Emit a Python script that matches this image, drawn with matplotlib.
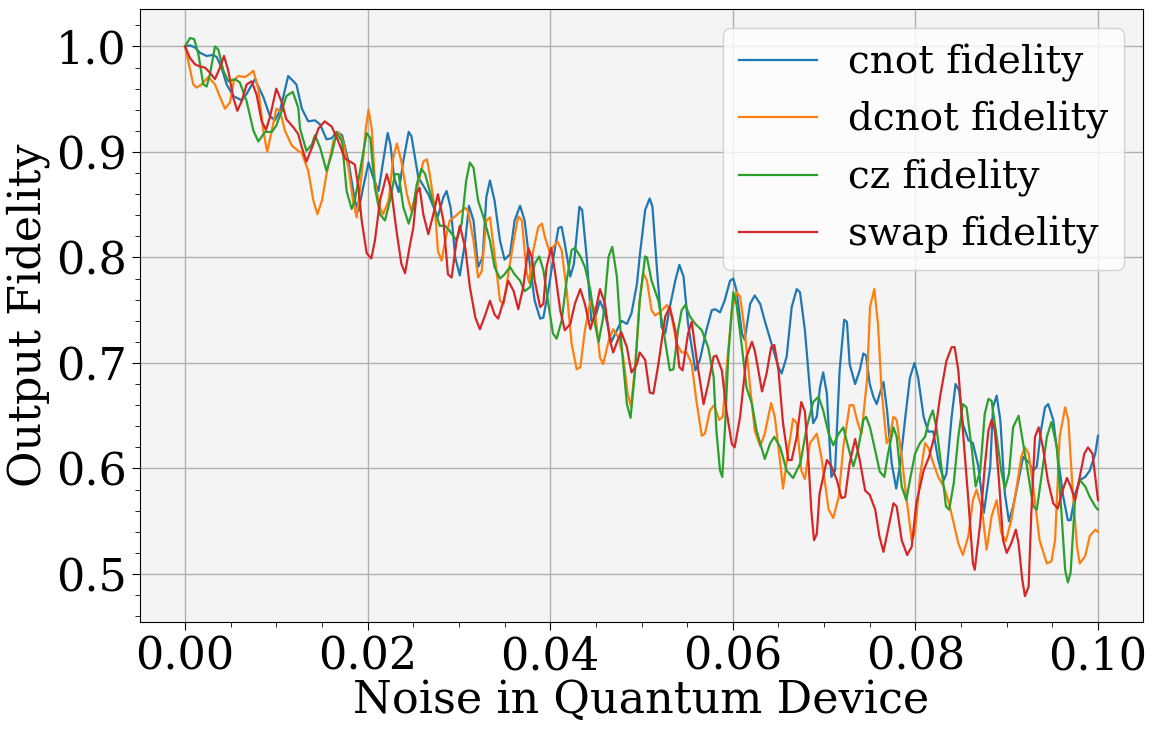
import numpy as np
import matplotlib
matplotlib.use("Agg")
import matplotlib.pyplot as plt
from matplotlib.ticker import MultipleLocator

# noise values are given in thousandths (x1000) of the noise level
cnot_noise_milli = [0,0.55,1.1,1.64,2.37,3.1,3.47,4.0,4.56,5.3,6.2,6.75,7.66,8.58,9.3,9.85,10.4,11.3,12.2,
    12.8,13.5,14.24,14.8,15.5,16.07,16.6,17.2,17.9,18.6,19.0,19.5,20.1,20.6,21.2,21.7,22.2,22.5,22.9,23.4,23.9,24.5,24.8,
    25.55,26.1,26.65,27.4,27.7,28.3,28.65,29.1,29.6,30.1,30.7,31.1,31.6,32.1,32.6,33.0,33.4,33.9,34.5,35.0,35.6,36.1,36.7,37.2,
    37.8,38.3,38.9,39.25,39.8,40.3,40.9,41.25,41.6,42.2,42.6,43.2,43.5,43.99,44.5,44.9,45.45,46.0,46.7,47.3,47.8,48.4,48.9,49.5,
    49.84,50.4,50.9,51.2,51.7,52.2,52.6,53.1,53.7,54.15,54.6,55.1,55.9,56.4,57.1,57.7,58.05,58.6,59.1,59.7,60.05,60.4,61.0,61.3,61.9,62.4,
    63.0,63.5,64.25,65.0,65.35,65.9,66.45,67.0,67.36,67.9,68.45,68.8,69.2,69.55,69.9,70.3,70.8,71.2,71.7,72.2,72.5,72.8,73.4,73.9,74.3,74.6,75.0,
    75.4,75.76,76.1,76.5,76.9,77.4,77.9,78.3,78.9,79.4,79.9,80.3,80.9,81.4,81.96,82.5,83.1,83.4,83.97,84.4,84.8,85.2,85.8,86.3,86.9,87.5,
    88.2,88.5,88.9,89.3,89.8,90.25,90.7,91.3,91.8,92.4,92.9,93.3,93.75,94.2,94.55,95.1,95.65,96.2,96.7,97.0,97.5,98.0,98.6,99.1,99.7,100]
cnot_fidelity = [1.0,1.001,0.999,0.994,0.991,0.992,0.99,0.98,0.964,0.953,0.949,0.955,0.969,0.952,0.934,0.93,0.939,0.972,0.964,
    0.941,0.929,0.930,0.926,0.912,0.913,0.919,0.916,0.891,0.854,0.844,0.866,0.89,0.876,0.863,0.891,0.918,0.907,0.876,0.862,0.891,0.919,0.915,
    0.876,0.868,0.86,0.844,0.839,0.857,0.863,0.847,0.8,0.783,0.816,0.849,0.835,0.791,0.8,0.857,0.873,0.854,0.816,0.798,0.803,0.835,0.849,0.835,
    0.791,0.759,0.742,0.743,0.769,0.797,0.828,0.829,0.813,0.782,0.794,0.848,0.845,0.801,0.74,0.742,0.759,0.747,0.72,0.731,0.74,0.737,0.747,0.775,
    0.804,0.845,0.856,0.848,0.788,0.734,0.728,0.753,0.778,0.793,0.782,0.737,0.693,0.703,0.731,0.75,0.751,0.748,0.759,0.778,0.78,0.769,0.728,0.722,0.756,0.764,
    0.756,0.74,0.718,0.696,0.69,0.706,0.753,0.77,0.767,0.731,0.674,0.643,0.649,0.677,0.691,0.671,0.592,0.598,0.693,0.741,0.739,0.699,0.68,0.693,0.709,0.707,0.68,
    0.668,0.661,0.671,0.682,0.655,0.605,0.581,0.602,0.649,0.686,0.7,0.686,0.649,0.635,0.635,0.608,0.589,0.595,0.649,0.68,0.674,0.642,0.627,0.624,0.602,0.558,
    0.602,0.658,0.669,0.646,0.576,0.55,0.564,0.589,0.611,0.606,0.598,0.602,0.636,0.658,0.661,0.646,0.608,0.573,0.551,0.551,0.576,0.589,0.592,0.598,0.614,0.631]

dcnot_noise_milli = [0,0.36,0.9,1.28,1.8,2.55,3.28,3.83,4.38,4.93,5.36,5.84,6.57,7.1,7.48,8.03,8.58,9.0,9.5,10.0,10.4,10.95,11.7,12.4,
    12.8,13.5,14.06,14.5,15.0,15.5,16.25,16.8,17.3,17.9,18.4,18.8,19.35,19.8,20.1,20.45,20.8,21.36,21.7,22.3,22.8,23.2,23.7,24.3,24.8,
    25.55,26.1,26.5,26.8,27.4,27.7,28.1,28.5,29.0,29.6,30.1,30.7,31.0,31.6,32.1,32.5,33.0,33.4,33.9,34.5,34.9,35.4,36.0,36.5,36.9,37.4,37.7,
    38.15,38.7,39.1,39.4,39.98,40.3,40.8,41.25,41.8,42.35,42.9,43.3,43.8,44.4,44.9,45.45,45.8,46.4,46.9,47.5,48.0,48.5,48.85,49.3,49.8,50.2,
    50.6,51.1,51.5,52.0,52.8,53.3,53.85,54.4,54.95,55.5,56.0,56.6,56.95,57.5,57.95,58.5,58.9,59.3,59.9,60.4,60.8,61.3,61.9,62.4,
    63.0,63.5,64.2,64.6,65.2,65.5,66.08,66.6,67.0,67.5,67.9,68.45,69.2,69.7,70.5,71.0,71.6,72.1,72.8,73.2,73.7,74.1,74.7,
    75.03,75.5,75.9,76.3,76.85,77.2,77.6,77.95,78.5,79.0,79.6,79.95,80.5,81.05,81.4,81.96,82.5,83.1,83.6,84.2,84.7,85.2,85.8,86.3,86.7,87.3,87.8,
    88.35,88.9,89.4,89.9,90.5,91.1,91.6,92.0,92.4,92.9,93.6,94.4,94.9,95.3,95.8,96.4,96.75,97.2,97.7,98.0,98.6,99.1,99.7,100]
dcnot_fidelity = [1.0,0.986,0.964,0.961,0.964,0.971,0.964,0.952,0.941,0.947,0.968,0.972,0.971,0.974,0.977,0.96,0.92,0.9,0.92,0.941,0.939,0.92,0.906,0.901,
    0.899,0.882,0.854,0.841,0.854,0.879,0.91,0.919,0.91,0.885,0.854,0.838,0.879,0.922,0.94,0.922,0.872,0.847,0.841,0.854,0.894,0.908,0.891,0.86,0.844,
    0.870,0.891,0.893,0.879,0.844,0.806,0.797,0.816,0.835,0.839,0.843,0.847,0.844,0.816,0.781,0.787,0.835,0.838,0.803,0.759,0.756,0.784,0.816,0.839,0.835,0.787,0.776,
    0.807,0.829,0.832,0.82,0.804,0.81,0.815,0.807,0.769,0.718,0.694,0.696,0.731,0.759,0.75,0.705,0.699,0.721,0.732,0.724,0.705,0.67,0.659,0.696,0.759,0.785,
    0.778,0.75,0.745,0.748,0.755,0.744,0.718,0.71,0.71,0.699,0.665,0.631,0.633,0.655,0.66,0.646,0.649,0.693,0.75,0.767,0.763,0.731,0.677,0.636,
    0.621,0.633,0.662,0.649,0.605,0.581,0.617,0.647,0.643,0.598,0.59,0.624,0.633,0.611,0.561,0.553,0.573,0.62,0.66,0.66,0.643,0.633,0.684,
    0.753,0.77,0.737,0.674,0.624,0.63,0.649,0.646,0.611,0.573,0.532,0.539,0.592,0.624,0.62,0.605,0.592,0.583,0.57,0.548,0.529,0.518,0.536,0.57,0.58,0.561,0.523,
    0.555,0.57,0.539,0.531,0.551,0.583,0.611,0.62,0.614,0.583,0.532,0.51,0.512,0.532,0.63,0.658,0.646,0.583,0.526,0.51,0.517,0.536,0.542,0.54]

cz_noise_milli = [0,0.55,1.0,1.46,2.0,2.37,2.74,3.28,3.65,4.2,4.74,5.47,6.0,6.75,7.5,8.03,8.76,9.5,10.0,10.6,11.1,11.8,12.4,
    12.6,13.3,13.9,14.24,14.8,15.5,16.07,16.6,17.2,17.7,18.25,18.6,19.35,19.9,20.3,20.8,21.36,21.9,22.45,23.0,23.4,23.9,24.5,
    25.0,25.37,25.9,26.3,26.8,27.4,27.9,28.5,29.0,29.75,30.3,30.8,31.2,31.6,32.1,32.7,33.4,33.9,34.5,35.0,35.6,36.1,36.7,37.2,
    37.8,38.3,38.8,39.25,39.8,40.3,40.7,41.25,41.8,42.35,42.7,43.3,43.8,44.4,44.9,45.3,45.8,46.4,46.8,47.3,47.8,48.4,48.8,49.3,49.8,50.4,
    50.6,51.1,51.85,52.4,53.1,53.5,54.0,54.4,54.8,55.3,55.9,56.6,57.3,57.9,58.2,58.6,58.85,59.15,59.5,60.05,60.4,61.0,61.5,62.1,62.6,
    63.0,63.5,64.1,64.55,65.2,65.9,66.6,67.4,68.1,68.8,69.4,69.9,70.5,71.0,71.6,72.1,72.65,73.2,73.7,74.3,74.6,
    75.03,75.6,76.1,76.6,77.0,77.6,77.95,78.5,79.0,79.4,79.96,80.5,81.05,81.5,81.9,82.3,82.9,83.35,83.7,84.2,84.7,85.2,85.6,86.2,86.6,87.1,87.6,88.0,
    88.35,88.9,89.4,89.8,90.25,90.7,91.3,91.8,92.4,92.9,93.3,93.8,94.4,94.9,95.5,96.0,96.4,96.7,97.0,97.5,98.0,98.6,99.1,99.7,100]
cz_fidelity = [1.0,1.008,1.007,0.993,0.964,0.962,0.974,1.0,0.997,0.977,0.967,0.969,0.966,0.948,0.92,0.91,0.919,0.919,0.925,0.939,0.953,0.957,0.942,
    0.922,0.901,0.907,0.916,0.904,0.882,0.898,0.918,0.91,0.863,0.846,0.854,0.891,0.918,0.913,0.866,0.841,0.835,0.854,0.879,0.879,0.848,0.832,
    0.847,0.869,0.884,0.879,0.863,0.844,0.83,0.83,0.825,0.816,0.832,0.873,0.89,0.885,0.854,0.838,0.816,0.791,0.78,0.784,0.791,0.784,0.778,0.768,
    0.772,0.794,0.801,0.788,0.756,0.728,0.723,0.74,0.778,0.807,0.809,0.801,0.791,0.769,0.737,0.72,0.743,0.801,0.81,0.782,0.718,0.661,0.648,0.693,0.759,0.801,
    0.8,0.778,0.759,0.731,0.693,0.694,0.731,0.75,0.755,0.744,0.737,0.731,0.715,0.687,0.636,0.598,0.592,0.639,0.706,0.767,0.756,0.715,0.677,0.661,0.636,
    0.624,0.609,0.624,0.63,0.62,0.598,0.591,0.605,0.639,0.663,0.668,0.655,0.633,0.622,0.633,0.639,0.62,0.602,0.617,0.646,0.649,
    0.639,0.617,0.597,0.592,0.614,0.639,0.63,0.583,0.57,0.589,0.614,0.624,0.63,0.646,0.655,0.639,0.598,0.564,0.561,0.586,0.63,0.661,0.658,0.617,0.583,0.598,0.652,0.666,
    0.664,0.63,0.598,0.581,0.595,0.639,0.65,0.624,0.592,0.564,0.561,0.592,0.63,0.644,0.62,0.558,0.504,0.492,0.501,0.573,0.589,0.583,0.573,0.564,0.561]

swap_noise_milli = [0,0.55,1.1,1.64,2.19,2.74,3.28,3.83,4.27,4.74,5.3,5.73,6.2,6.75,7.3,7.85,8.4,8.87,9.3,10.0,10.6,11.1,11.9,12.4,
    12.8,13.3,13.9,14.6,15.3,16.07,16.8,17.5,18.25,18.6,19.0,19.35,19.9,20.4,20.8,21.36,22.1,22.6,23.2,23.7,24.1,24.6,
    25.0,25.37,25.7,26.1,26.65,27.2,27.7,28.3,28.8,29.2,29.75,30.1,30.7,31.2,31.8,32.3,32.9,33.4,33.9,34.3,34.9,35.4,36.0,36.5,37.05,37.6,38.0,
    38.3,38.9,39.25,39.6,40.1,40.5,41.1,41.6,42.2,42.7,43.3,43.8,44.4,44.9,45.45,46.0,46.55,46.9,47.5,47.8,48.4,48.9,49.5,49.8,
    50.4,50.9,51.3,51.85,52.6,53.1,53.7,54.15,54.5,55.1,55.5,56.0,56.8,57.3,57.9,58.2,58.8,59.3,59.9,60.2,60.8,61.5,62.1,62.4,
    62.8,63.2,63.7,64.2,64.55,65.0,65.5,66.08,66.45,67.0,67.5,67.9,68.3,68.6,68.9,69.2,69.5,70.3,70.8,71.4,71.9,72.3,72.8,73.4,73.9,74.5,75.0,
    75.6,76.05,76.5,77.0,77.6,77.95,78.5,79.1,79.6,80.1,80.9,81.5,82.15,82.7,83.4,83.97,84.3,84.7,85.2,85.8,86.3,86.5,87.1,87.6,
    88.0,88.35,88.7,89.15,89.6,90.0,90.5,91.0,91.3,91.7,92.0,92.4,92.7,93.1,93.5,93.97,94.5,95.1,95.6,96.0,96.6,97.0,97.5,98.0,98.5,98.9,99.4,100]
swap_fidelity = [1.0,0.989,0.983,0.981,0.98,0.975,0.969,0.98,0.991,0.977,0.951,0.939,0.948,0.964,0.967,0.954,0.929,0.921,0.933,0.96,0.947,0.931,0.923,0.917,
    0.904,0.891,0.904,0.922,0.929,0.924,0.91,0.894,0.89,0.888,0.866,0.835,0.804,0.799,0.816,0.854,0.879,0.863,0.823,0.794,0.785,0.81,
    0.828,0.861,0.866,0.841,0.822,0.841,0.86,0.835,0.784,0.781,0.816,0.83,0.809,0.772,0.743,0.732,0.746,0.759,0.746,0.742,0.759,0.778,0.768,0.751,0.772,0.809,0.8,
    0.778,0.753,0.756,0.791,0.809,0.788,0.75,0.731,0.737,0.756,0.77,0.756,0.732,0.747,0.77,0.756,0.721,0.71,0.724,0.729,0.715,0.691,0.699,0.71,
    0.703,0.672,0.671,0.699,0.744,0.753,0.731,0.696,0.693,0.728,0.739,0.706,0.661,0.68,0.706,0.707,0.693,0.655,0.623,0.62,0.649,0.706,0.72,0.712,
    0.693,0.673,0.69,0.715,0.717,0.693,0.643,0.608,0.608,0.63,0.663,0.654,0.605,0.56,0.532,0.538,0.576,0.608,0.602,0.589,0.572,0.573,0.605,0.628,0.608,0.579,0.575,
    0.561,0.536,0.521,0.542,0.567,0.564,0.532,0.518,0.526,0.567,0.598,0.611,0.633,0.668,0.702,0.715,0.715,0.693,0.636,0.57,0.51,0.504,0.548,0.602,
    0.636,0.646,0.636,0.589,0.532,0.52,0.529,0.542,0.529,0.495,0.479,0.488,0.558,0.63,0.639,0.62,0.589,0.567,0.562,0.576,0.591,0.583,0.57,0.592,0.614,0.62,0.614,0.57]

series_labels = ["cnot fidelity", "dcnot fidelity", "cz fidelity", "swap fidelity"]
x_ticks = [0.00, 0.02, 0.04, 0.06, 0.08, 0.10]
y_ticks = [0.5, 0.6, 0.7, 0.8, 0.9, 1.0]

plt.rcParams['font.family'] = ['DejaVu Serif']

fig = plt.figure(figsize=(11.56, 7.37), dpi=100)
ax = fig.add_axes([140/1156, 115/737, 1003/1156, 613/737])
ax.set_facecolor('#f4f4f4')

data = [(cnot_noise_milli, cnot_fidelity), (dcnot_noise_milli, dcnot_fidelity),
        (cz_noise_milli, cz_fidelity), (swap_noise_milli, swap_fidelity)]
colors = ['#1f77b4', '#ff7f0e', '#2ca02c', '#d62728']
for (xm, yv), lab, c in zip(data, series_labels, colors):
    ax.plot(np.array(xm) / 1000.0, yv, color=c, lw=1.6, label=lab,
            solid_joinstyle='round')

ax.set_xlim(-0.00493, 0.10493)
ax.set_ylim(0.4545, 1.0355)
ax.set_xticks(x_ticks)
ax.set_xticklabels([f"{v:.2f}" for v in x_ticks])
ax.set_yticks(y_ticks)
ax.set_yticklabels([f"{v:.1f}" for v in y_ticks])
ax.xaxis.set_minor_locator(MultipleLocator(0.005))
ax.yaxis.set_minor_locator(MultipleLocator(0.02))
ax.tick_params(axis='both', which='major', labelsize=32, length=6)
ax.tick_params(axis='both', which='minor', length=3.5)
ax.grid(True, which='major', color='#b0b0b0', lw=1.0)
ax.set_axisbelow(True)

ax.set_xlabel("Noise in Quantum Device", fontsize=32, labelpad=0)
ax.set_ylabel("Output Fidelity", fontsize=32, labelpad=4)

leg = ax.legend(loc='upper right', fontsize=28, frameon=True)

fig.savefig("out.png", dpi=100)
